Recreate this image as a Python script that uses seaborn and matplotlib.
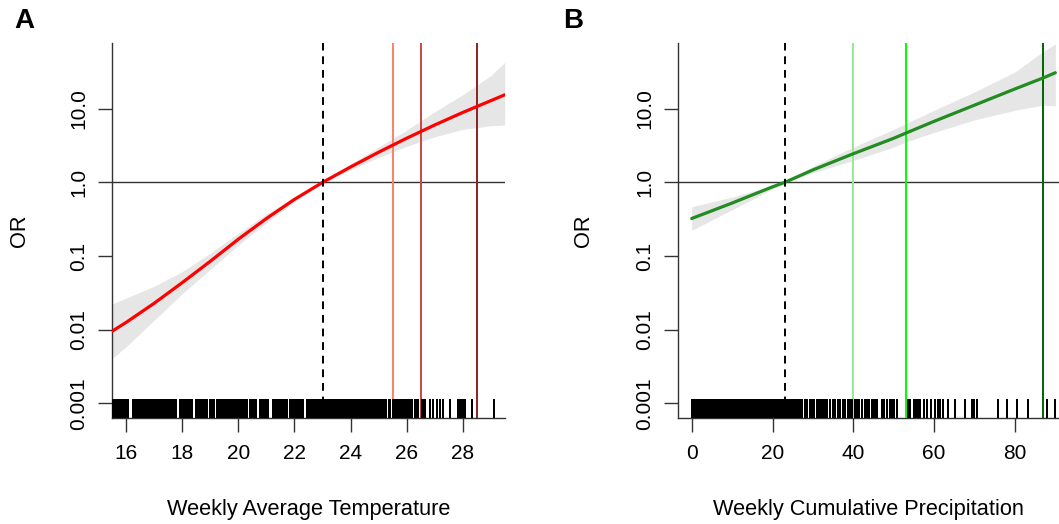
import matplotlib
matplotlib.use("Agg")
import matplotlib.pyplot as plt
import numpy as np
import seaborn as sns
from matplotlib.ticker import NullLocator

# temperature panel: spline (log10 OR) with 95% band
temp_x = [15.5, 16, 17, 18, 19, 20, 21, 22, 23, 24, 25, 26, 27, 28, 29, 29.5]
temp_log_or = [-2.02, -1.90, -1.64, -1.36, -1.07, -0.77, -0.49, -0.23, 0.00,
               0.21, 0.41, 0.60, 0.78, 0.95, 1.11, 1.19]
temp_log_hi = [-1.65, -1.57, -1.41, -1.21, -0.96, -0.69, -0.43, -0.20, 0.00,
               0.25, 0.48, 0.71, 0.96, 1.19, 1.45, 1.63]
temp_log_lo = [-2.39, -2.23, -1.87, -1.51, -1.18, -0.85, -0.55, -0.26, 0.00,
               0.17, 0.34, 0.49, 0.62, 0.72, 0.77, 0.78]
temp_ref = 23
temp_cuts = [25.5, 26.5, 28.5]
temp_cut_colours = ["#FF7F66", "#C8463C", "#8B2222"]
temp_rug = [
    15.50, 15.53, 15.56, 15.59, 15.62, 15.65, 15.68, 15.71, 15.74, 15.82, 15.87,
    15.94, 15.97, 16.00, 16.03, 16.06,
    16.24, 16.27, 16.30, 16.33, 16.36, 16.39, 16.42, 16.45, 16.48, 16.51, 16.54,
    16.59, 16.62, 16.65, 16.68, 16.71, 16.74, 16.77, 16.80, 16.83, 16.86, 16.89, 16.92, 16.95,
    17.02, 17.08, 17.14, 17.21, 17.27, 17.33, 17.40, 17.46, 17.52, 17.58, 17.64, 17.70, 17.77,
    17.90, 17.94, 18.00, 18.04, 18.10, 18.16, 18.20, 18.26, 18.31, 18.36,
    18.50, 18.53, 18.56, 18.59, 18.62, 18.65, 18.68, 18.71, 18.74, 18.77, 18.80, 18.83, 18.86, 18.89,
    18.98, 19.02, 19.06, 19.10, 19.14, 19.22, 19.30,
    19.39, 19.42, 19.45, 19.48, 19.51, 19.54, 19.57, 19.60, 19.63, 19.66, 19.69,
    19.75, 19.78, 19.81, 19.84, 19.87, 19.90, 19.93, 19.96, 19.99, 20.02, 20.05, 20.08,
    20.11, 20.14, 20.17, 20.20, 20.23, 20.26, 20.29, 20.32,
    20.41, 20.46, 20.52, 20.58, 20.63,
    20.76, 20.79, 20.82, 20.85, 20.88, 20.91, 20.94, 20.97, 21.00, 21.03, 21.06,
    21.24, 21.27, 21.30, 21.33, 21.36, 21.39, 21.42, 21.45, 21.48, 21.51, 21.54, 21.57,
    21.60, 21.63, 21.66, 21.69, 21.72, 21.75,
    21.83, 21.88, 21.92, 21.97, 22.02, 22.06, 22.11, 22.16, 22.20, 22.25, 22.30,
    22.43, 22.48, 22.54, 22.60, 22.66, 22.72, 22.78, 22.84, 22.90, 22.95,
    23.02, 23.05, 23.08, 23.11, 23.14, 23.18, 23.21, 23.24, 23.28, 23.31, 23.34, 23.38,
    23.42, 23.45, 23.48, 23.52, 23.55, 23.58, 23.62, 23.65, 23.68, 23.72, 23.75, 23.78,
    23.82, 23.85,
    23.91, 23.94, 23.97, 24.00, 24.03, 24.06, 24.09, 24.12, 24.15, 24.18, 24.21, 24.24,
    24.27, 24.30, 24.33, 24.36, 24.39, 24.45, 24.48, 24.51, 24.54, 24.57, 24.60, 24.63,
    24.66, 24.69, 24.72, 24.78, 24.81, 24.84, 24.87, 24.90, 24.93, 24.96, 24.99, 25.02,
    25.05, 25.08, 25.11,
    25.16, 25.22, 25.28, 25.36, 25.40,
    25.52, 25.58, 25.63, 25.70, 25.76, 25.80, 25.88, 25.93, 26.00, 26.06, 26.12, 26.18,
    26.30, 26.35, 26.41, 26.54, 26.60, 26.65,
    26.83, 26.95, 27.07, 27.19, 27.31, 27.55,
    27.84, 27.88, 27.93, 27.98, 28.03, 28.08, 28.34, 29.12,
]

# precipitation panel
precip_x = [0, 10, 20, 23, 30, 40, 50, 53, 60, 70, 80, 87, 90]
precip_log_or = [-0.49, -0.28, -0.06, 0.00, 0.17, 0.39, 0.60, 0.67, 0.83, 1.05, 1.27, 1.42, 1.49]
precip_log_hi = [-0.33, -0.20, -0.04, 0.00, 0.22, 0.48, 0.72, 0.80, 0.98, 1.23, 1.50, 1.78, 1.88]
precip_log_lo = [-0.65, -0.37, -0.09, 0.00, 0.13, 0.30, 0.48, 0.55, 0.68, 0.85, 0.98, 1.05, 1.04]
precip_ref = 23
precip_cuts = [40, 53, 87]
precip_cut_colours = ["#90EE90", "#00FF00", "#006400"]
precip_rug = [
    0.0, 0.3, 0.6, 0.9, 1.2, 1.5, 1.8, 2.1, 2.4, 2.7, 3.0, 3.3, 3.6, 3.9, 4.2, 4.5,
    4.8, 5.1, 5.4, 5.7, 6.0, 6.3, 6.6, 6.9, 7.2, 7.5, 7.8, 8.1, 8.4, 8.7, 9.0, 9.3,
    9.6, 9.9,
    10.3, 10.6, 10.9, 11.2, 11.5, 11.8, 12.1, 12.4, 12.7, 13.0, 13.3, 13.6, 13.9, 14.2,
    14.5, 14.8, 15.1, 15.4, 15.7, 16.0, 16.3, 16.6, 16.9, 17.2, 17.5, 17.8, 18.1, 18.4,
    18.7, 19.0, 19.3, 19.6, 19.8,
    20.2, 20.6, 21.0, 21.5, 21.9, 22.3, 22.7, 23.1, 23.5, 23.9,
    24.3, 24.6, 25.0, 25.3, 25.7, 26.0, 26.4,
    26.8, 27.4, 28.0, 28.5, 29.2, 29.8, 30.3, 31.0, 31.6, 32.1, 32.6,
    33.0, 33.6, 34.3, 34.9, 35.5, 36.1, 36.8, 37.4, 38.0, 38.7, 39.3, 39.6,
    40.4, 41.0, 41.3, 42.2, 43.0, 43.4, 44.0, 44.6, 44.9, 45.2, 45.5, 45.8,
    47.0, 47.5, 48.3, 49.0, 49.6, 50.1, 50.7,
    53.6, 54.0, 54.9, 55.5, 56.0, 56.6, 57.5, 58.3, 59.1, 60.2, 61.0, 61.5,
    62.3, 63.5, 65.2, 67.6, 69.3, 69.9, 70.5,
    75.9, 78.0, 80.4, 83.3, 87.9, 89.9,
]

y_ticks = [0.001, 0.01, 0.1, 1, 10]
y_tick_labels = ["0.001", "0.01", "0.1", "1.0", "10.0"]

sns.set_style("ticks")
plt.rcParams["font.family"] = ["Liberation Sans", "DejaVu Sans"]
plt.rcParams["text.color"] = "black"
plt.rcParams["axes.labelcolor"] = "black"
plt.rcParams["xtick.labelcolor"] = "black"
plt.rcParams["ytick.labelcolor"] = "black"

W, H = 1059, 524
fig = plt.figure(figsize=(W / 100, H / 100), dpi=100)


def px_axes(left, top, right, bottom):
    return fig.add_axes([left / W, 1 - bottom / H, (right - left) / W, (bottom - top) / H])


def draw_panel(ax, x, mid, lo, hi, rug, colour, ref, cuts, cut_colours,
               xlim, xticks, xlabel, ylab_x):
    ax.set_yscale("log")
    ax.fill_between(x, 10 ** np.array(lo), 10 ** np.array(hi),
                    color="#E6E6E6", lw=0, zorder=1)
    ax.axhline(1, color="#333333", lw=1, zorder=2)
    sns.lineplot(x=x, y=10 ** np.array(mid), color=colour, lw=2.3, ax=ax, zorder=4)
    for c, col in zip(cuts, cut_colours):
        ax.axvline(c, color=col, lw=1.4, zorder=3)
    ax.axvline(ref, color="black", ls=(0, (4, 3)), lw=1.4, zorder=5)
    # aliased ticks so tightly packed values merge into solid blocks
    sns.rugplot(x=rug, height=0.05, color="black", linewidth=1.1, ax=ax,
                expand_margins=False, zorder=3, antialiased=False)

    ax.set_xlim(*xlim)
    ax.set_ylim(10 ** -3.2, 10 ** 1.894)
    ax.set_xticks(xticks)
    ax.set_xticklabels([str(t) for t in xticks])
    ax.set_yticks(y_ticks)
    ax.set_yticklabels(y_tick_labels, rotation=90, va="center")
    ax.yaxis.set_minor_locator(NullLocator())

    for side in ["top", "right"]:
        ax.spines[side].set_visible(False)
    for side in ["left", "bottom"]:
        ax.spines[side].set_color("#333333")
        ax.spines[side].set_linewidth(1)
    ax.tick_params(axis="both", length=10, width=1, color="#333333",
                   labelsize=15, labelcolor="black", direction="out")
    ax.tick_params(axis="x", pad=9)
    ax.tick_params(axis="y", pad=7)

    ax.set_xlabel(xlabel, fontsize=15.7, color="black")
    ax.xaxis.label.set_va("center")
    ax.xaxis.set_label_coords(0.5, -92 / 375)
    ax.set_ylabel("OR", fontsize=15.7, color="black")
    ax.yaxis.label.set_va("center")
    ax.yaxis.set_label_coords(ylab_x, 0.5)


ax_a = px_axes(112, 43, 505, 418)
ax_b = px_axes(678, 43, 1059, 418)

draw_panel(ax_a, temp_x, temp_log_or, temp_log_lo, temp_log_hi, temp_rug, "red",
           temp_ref, temp_cuts, temp_cut_colours, (15.49, 29.51),
           [16, 18, 20, 22, 24, 26, 28], "Weekly Average Temperature", -92 / 393)
draw_panel(ax_b, precip_x, precip_log_or, precip_log_lo, precip_log_hi, precip_rug,
           "#228B22", precip_ref, precip_cuts, precip_cut_colours, (-3.39, 90.9),
           [0, 20, 40, 60, 80], "Weekly Cumulative Precipitation", -95 / 381)

fig.text(14 / W, 1 - 8 / H, "A", fontsize=20, fontweight="bold", va="top", ha="left")
fig.text(563 / W, 1 - 8 / H, "B", fontsize=20, fontweight="bold", va="top", ha="left")

fig.savefig("out.png", dpi=100)
